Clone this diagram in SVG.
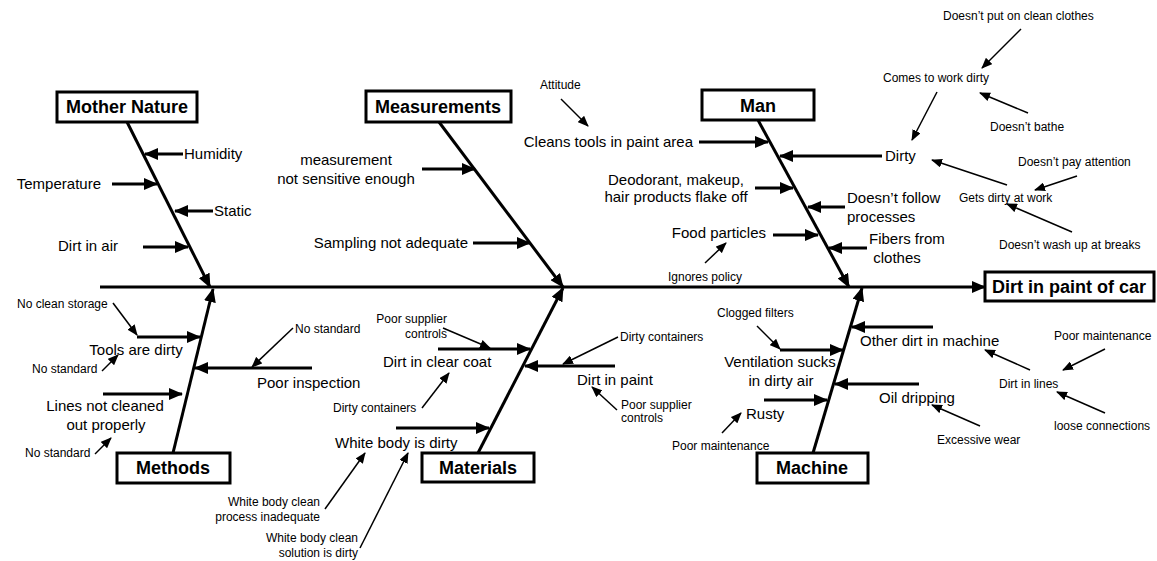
<svg xmlns="http://www.w3.org/2000/svg" width="1157" height="561" viewBox="0 0 1157 561">
<style>
text{font-family:"Liberation Sans",Arial,sans-serif;fill:#000}
.t{font-size:18px;font-weight:bold;text-anchor:middle}
.b{font-size:15px}
.s{font-size:12px}
.m{text-anchor:middle}
.e{text-anchor:end}
rect{fill:#fff;stroke:#000;stroke-width:3}
.bone{stroke:#000;stroke-width:3;fill:none;marker-end:url(#ah)}
.thin{stroke:#000;stroke-width:1.5;fill:none;marker-end:url(#at)}
</style>
<defs>
<marker id="ah" markerUnits="userSpaceOnUse" markerWidth="14" markerHeight="12" refX="13" refY="6" orient="auto"><path d="M0,0 L14,6 L0,12 z" fill="#000"/></marker>
<marker id="at" markerUnits="userSpaceOnUse" markerWidth="11" markerHeight="9" refX="10" refY="4.5" orient="auto"><path d="M0,0 L11,4.5 L0,9 z" fill="#000"/></marker>
</defs>
<rect width="1157" height="561" style="fill:#fff;stroke:none"/>
<g id="connectors">
<line class="bone" x1="100" y1="287" x2="985" y2="287"/>
<line class="bone" x1="127" y1="122" x2="210" y2="287"/>
<line class="bone" x1="173" y1="453" x2="213" y2="289"/>
<line class="bone" x1="439" y1="122" x2="563" y2="287"/>
<line class="bone" x1="478" y1="453" x2="563" y2="288"/>
<line class="bone" x1="758" y1="120" x2="849" y2="287"/>
<line class="bone" x1="813" y1="453" x2="862" y2="288"/>
<line class="bone" x1="183" y1="154" x2="145" y2="154"/>
<line class="bone" x1="112" y1="184" x2="157" y2="184"/>
<line class="bone" x1="213" y1="211" x2="175" y2="211"/>
<line class="bone" x1="143" y1="247" x2="188" y2="247"/>
<line class="bone" x1="137" y1="337" x2="200" y2="337"/>
<line class="bone" x1="312" y1="368" x2="195" y2="368"/>
<line class="bone" x1="103" y1="394" x2="182" y2="394"/>
<line class="bone" x1="422" y1="169" x2="475" y2="169"/>
<line class="bone" x1="473" y1="243" x2="530" y2="243"/>
<line class="bone" x1="438" y1="349" x2="530" y2="349"/>
<line class="bone" x1="396" y1="428" x2="489" y2="428"/>
<line class="bone" x1="615" y1="366" x2="525" y2="366"/>
<line class="bone" x1="699" y1="142" x2="768" y2="142"/>
<line class="bone" x1="882" y1="156" x2="780" y2="156"/>
<line class="bone" x1="755" y1="188" x2="793" y2="188"/>
<line class="bone" x1="845" y1="207" x2="808" y2="207"/>
<line class="bone" x1="773" y1="235" x2="818" y2="235"/>
<line class="bone" x1="867" y1="248" x2="829" y2="248"/>
<line class="bone" x1="780" y1="350" x2="843" y2="350"/>
<line class="bone" x1="933" y1="327" x2="852" y2="327"/>
<line class="bone" x1="919" y1="384" x2="835" y2="384"/>
<line class="bone" x1="764" y1="400" x2="827" y2="400"/>
<line class="thin" x1="113" y1="303" x2="137" y2="335"/>
<line class="thin" x1="102" y1="371" x2="118" y2="355"/>
<line class="thin" x1="293" y1="328" x2="252" y2="367"/>
<line class="thin" x1="95" y1="454" x2="111" y2="438"/>
<line class="thin" x1="443" y1="328" x2="490" y2="348"/>
<line class="thin" x1="422" y1="408" x2="449" y2="373"/>
<line class="thin" x1="325" y1="509" x2="365" y2="453"/>
<line class="thin" x1="360" y1="548" x2="408" y2="453"/>
<line class="thin" x1="618" y1="337" x2="563" y2="364"/>
<line class="thin" x1="617" y1="410" x2="592" y2="387"/>
<line class="thin" x1="561" y1="99" x2="588" y2="126"/>
<line class="thin" x1="705" y1="263" x2="726" y2="243"/>
<line class="thin" x1="937" y1="92" x2="912" y2="140"/>
<line class="thin" x1="1021" y1="29" x2="982" y2="68"/>
<line class="thin" x1="1028" y1="113" x2="980" y2="93"/>
<line class="thin" x1="1077" y1="176" x2="1035" y2="190"/>
<line class="thin" x1="1007" y1="185" x2="932" y2="160"/>
<line class="thin" x1="1072" y1="232" x2="1007" y2="204"/>
<line class="thin" x1="757" y1="326" x2="780" y2="349"/>
<line class="thin" x1="722" y1="433" x2="741" y2="413"/>
<line class="thin" x1="980" y1="426" x2="932" y2="405"/>
<line class="thin" x1="1030" y1="370" x2="985" y2="350"/>
<line class="thin" x1="1105" y1="349" x2="1063" y2="370"/>
<line class="thin" x1="1105" y1="413" x2="1057" y2="392"/>
</g>
<g id="effect"><rect x="985" y="272" width="169" height="29"/><text class="t" x="1069" y="293">Dirt in paint of car</text></g>
<g id="mother-nature"><rect x="57" y="92" width="140" height="30"/><text class="t" x="127" y="113">Mother Nature</text></g>
<g id="methods"><rect x="117" y="453" width="113" height="30"/><text class="t" x="173" y="474">Methods</text></g>
<g id="measurements"><rect x="366" y="91" width="145" height="31"/><text class="t" x="438" y="113">Measurements</text></g>
<g id="materials"><rect x="422" y="453" width="112" height="29"/><text class="t" x="478" y="474">Materials</text></g>
<g id="man"><rect x="702" y="90" width="112" height="30"/><text class="t" x="758" y="112">Man</text></g>
<g id="machine"><rect x="757" y="453" width="111" height="30"/><text class="t" x="812" y="474">Machine</text></g>
<g id="mother-nature-causes">
<text class="b" x="184" y="159">Humidity</text>
<text class="b e" x="101" y="189">Temperature</text>
<text class="b" x="214" y="216">Static</text>
<text class="b e" x="118" y="251">Dirt in air</text>
</g>
<g id="methods-causes">
<text class="b m" x="136" y="355">Tools are dirty</text>
<text class="s" x="17" y="308">No clean storage</text>
<text class="s" x="32" y="373">No standard</text>
<text class="b" x="257" y="388">Poor inspection</text>
<text class="s" x="295" y="333">No standard</text>
<text class="b m" x="105" y="411">Lines not cleaned</text>
<text class="b m" x="106" y="430">out properly</text>
<text class="s" x="25" y="457">No standard</text>
</g>
<g id="measurements-causes">
<text class="b m" x="346" y="165">measurement</text>
<text class="b m" x="346" y="184">not sensitive enough</text>
<text class="b e" x="468" y="248">Sampling not adequate</text>
</g>
<g id="materials-causes">
<text class="s e" x="447" y="323">Poor supplier</text>
<text class="s e" x="447" y="338">controls</text>
<text class="b" x="383" y="367">Dirt in clear coat</text>
<text class="s" x="333" y="412">Dirty containers</text>
<text class="b" x="335" y="448">White body is dirty</text>
<text class="s e" x="320" y="506">White body clean</text>
<text class="s e" x="320" y="521">process inadequate</text>
<text class="s e" x="358" y="542">White body clean</text>
<text class="s e" x="358" y="557">solution is dirty</text>
<text class="b" x="577" y="385">Dirt in paint</text>
<text class="s" x="620" y="341">Dirty containers</text>
<text class="s" x="621" y="409">Poor supplier</text>
<text class="s" x="621" y="422">controls</text>
</g>
<g id="man-causes">
<text class="b e" x="693" y="147">Cleans tools in paint area</text>
<text class="s" x="540" y="89">Attitude</text>
<text class="b" x="885" y="161">Dirty</text>
<text class="b m" x="676" y="185">Deodorant, makeup,</text>
<text class="b m" x="676" y="202">hair products flake off</text>
<text class="b" x="847" y="203">Doesn’t follow</text>
<text class="b" x="847" y="222">processes</text>
<text class="b e" x="766" y="238">Food particles</text>
<text class="s" x="668" y="281">Ignores policy</text>
<text class="b" x="869" y="244">Fibers from</text>
<text class="b m" x="897" y="263">clothes</text>
<text class="s" x="883" y="82">Comes to work dirty</text>
<text class="s" x="943" y="20">Doesn’t put on clean clothes</text>
<text class="s" x="990" y="131">Doesn’t bathe</text>
<text class="s" x="1018" y="166">Doesn’t pay attention</text>
<text class="s" x="959" y="202">Gets dirty at work</text>
<text class="s" x="999" y="249">Doesn’t wash up at breaks</text>
</g>
<g id="machine-causes">
<text class="s" x="717" y="317">Clogged filters</text>
<text class="b m" x="780" y="367">Ventilation sucks</text>
<text class="b m" x="781" y="386">in dirty air</text>
<text class="b" x="860" y="346">Other dirt in machine</text>
<text class="b" x="879" y="403">Oil dripping</text>
<text class="b" x="746" y="419">Rusty</text>
<text class="s" x="672" y="450">Poor maintenance</text>
<text class="s" x="937" y="444">Excessive wear</text>
<text class="s" x="999" y="388">Dirt in lines</text>
<text class="s" x="1054" y="340">Poor maintenance</text>
<text class="s" x="1054" y="430">loose connections</text>
</g>
</svg>
